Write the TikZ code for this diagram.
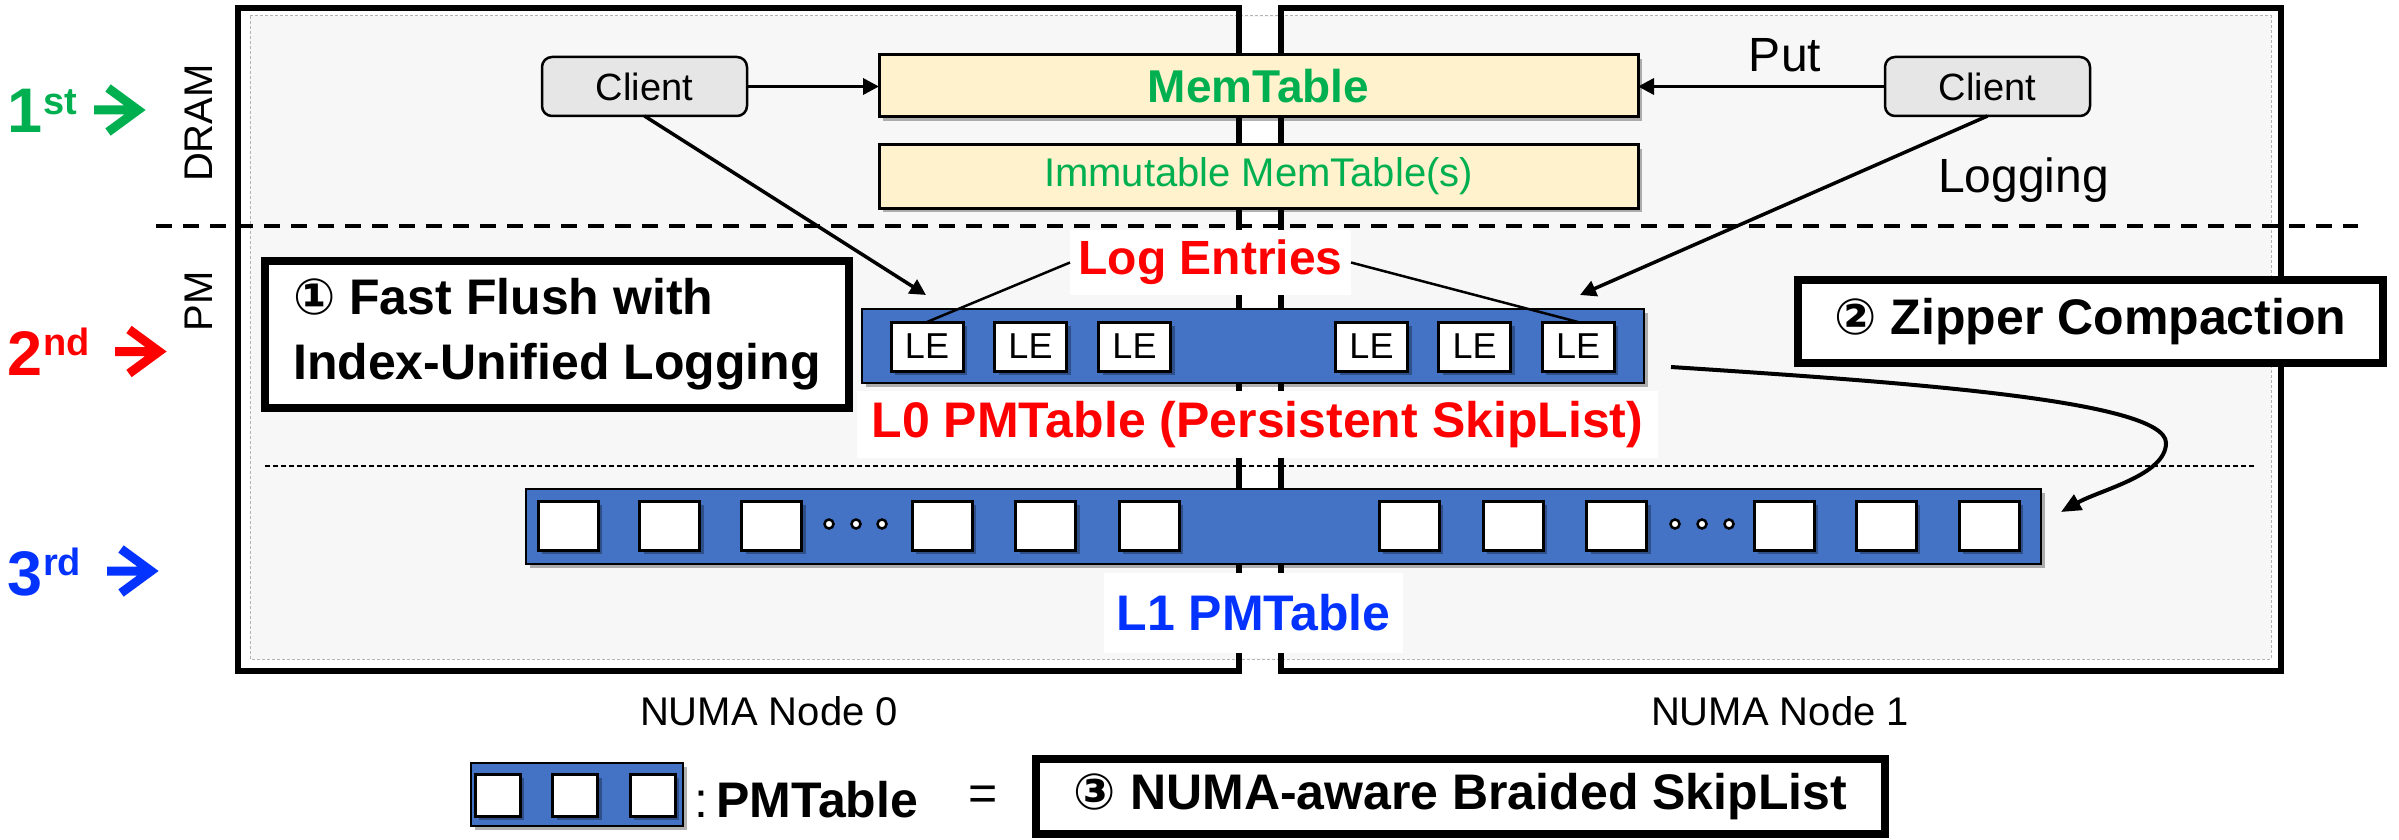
\documentclass[tikz,border=0pt]{standalone}
\usepackage{fontspec}
\setmainfont{Liberation Sans}
\newfontfamily\circfont{DejaVu Sans}
\usetikzlibrary{arrows.meta,shadows}

\definecolor{dramgreen}{HTML}{00B050}
\definecolor{pmred}{HTML}{FF0000}
\definecolor{lvlblue}{HTML}{0433FF}
\definecolor{barblue}{HTML}{4472C4}
\definecolor{memfill}{HTML}{FFF2CC}
\definecolor{clientfill}{HTML}{E7E6E6}
\definecolor{areagray}{HTML}{F7F7F7}
\definecolor{areaedge}{HTML}{B4B4B4}

\newcommand{\pxfont}[1]{\fontsize{#1}{#1}\selectfont}

\begin{document}
\begin{tikzpicture}[x=1pt,y=-1pt,
  every node/.style={inner sep=0pt, outer sep=0pt},
  softshadow/.style={drop shadow={shadow xshift=4pt, shadow yshift=-4pt, fill=black, opacity=0.3}},
  client/.style={draw=black, line width=2.5pt, fill=clientfill, rounded corners=10pt,
    minimum width=205pt, minimum height=59pt, font=\pxfont{38}},
  memtab/.style={draw=black, line width=3pt, fill=memfill, minimum width=759pt,
    minimum height=62pt, softshadow},
  bar/.style={draw=black, line width=2.5pt, fill=barblue, softshadow},
  lebox/.style={draw=black, line width=3pt, fill=white, minimum width=72pt,
    minimum height=49pt, font=\pxfont{36}, softshadow},
  cell/.style={draw=black, line width=3pt, fill=white, minimum width=60pt,
    minimum height=49pt, softshadow},
  dotcell/.style={circle, draw=black, line width=2.5pt, fill=white, minimum size=9pt},
  note/.style={draw=black, line width=8pt, fill=white, font=\pxfont{50}\bfseries},
  tag/.style={fill=white},
  lvl/.style={font=\pxfont{63}\bfseries, anchor=base west},
  conn/.style={line width=3.5pt, -{Triangle[length=16pt,width=16pt]}},
  leader/.style={line width=2.5pt},
  lvlarr/.pic={\draw[line width=9pt, miter limit=10] (-26,0) -- (17,0) (-12,-22) -- (18,0) -- (-12,22);}
]
\useasboundingbox (0,0) rectangle (2399,840);

% two NUMA nodes over a shared light area
\draw[fill=areagray, draw=areaedge, line width=1pt, dash pattern=on 3pt off 2pt] (250,16) rectangle (2271,659);
\fill[white] (1241,17.5) rectangle (1278,657.5);
\draw[line width=6pt] (238,8) rectangle (1238.5,671);
\draw[line width=6pt] (1280.5,8) rectangle (2280.5,671);

% DRAM / PM boundary and L0 / L1 boundary
\draw[line width=4pt, dash pattern=on 16pt off 11pt] (156,226) -- (2358,226);
\draw[line width=2pt, dash pattern=on 5pt off 3pt] (265,466) -- (2255,466);

% level markers
\node[lvl, text=dramgreen] (lv1) at (8,133) {1\raisebox{18pt}{\pxfont{38}st}};
\node[lvl, text=pmred] (lv2) at (8,375) {2\raisebox{20pt}{\pxfont{38}nd}};
\node[lvl, text=lvlblue] (lv3) at (8,595) {3\raisebox{20pt}{\pxfont{38}rd}};
\pic[color=dramgreen] at (120,110) {lvlarr};
\pic[color=pmred] at (141,351.5) {lvlarr};
\pic[color=lvlblue] at (133,571) {lvlarr};

\node[rotate=90, font=\pxfont{40}] (dram) at (199,123) {DRAM};
\node[rotate=90, font=\pxfont{40}] (pm) at (199,301) {PM};

% DRAM tables and clients
\node[memtab, text=dramgreen, font=\pxfont{46}\bfseries] (mem) at (1258.5,86) {MemTable};
\node[memtab, text=dramgreen, font=\pxfont{40}, minimum height=63pt] (imm) at (1258.5,176.5) {Immutable MemTable(s)};
\node[client] (cl) at (644.5,86.5) {Client};
\node[client] (cr) at (1987.5,86.5) {Client};
\node[font=\pxfont{48}, anchor=base] (put) at (1785,72) {Put};
\node[font=\pxfont{48}, anchor=base west] (logg) at (1938,192) {Logging};

% L0 PMTable with log entries
\node[bar, minimum width=782pt, minimum height=74pt] (l0) at (1253,346) {};
\foreach \x [count=\i] in {927,1030.5,1134.5,1371.5,1474.5,1578}
  \node[lebox] (le\i) at (\x,346.5) {LE};
\node[tag, minimum width=281pt, minimum height=65pt, text=pmred, font=\pxfont{48}\bfseries] (logent) at (1210.5,262.5) {Log Entries};
\node[tag, minimum width=801pt, minimum height=67pt, text=pmred, font=\pxfont{50}\bfseries] (l0lbl) at (1257.5,424.5) {L0 PMTable (Persistent SkipList)};

% L1 PMTable
\node[bar, minimum width=1515pt, minimum height=75pt] (l1) at (1283.5,526.5) {};
\foreach \x [count=\i] in {568,669.5,771.5,942,1045.5,1149,1409,1513,1616.5,1784,1886,1989}
  \node[cell] (c\i) at (\x,525.5) {};
\foreach \x [count=\i] in {829,856,882,1675,1702,1729}
  \node[dotcell] (d\i) at (\x,524) {};
\node[tag, minimum width=299pt, minimum height=80pt, text=lvlblue, font=\pxfont{50}\bfseries] (l1lbl) at (1253.5,613) {L1 PMTable};

% connectors
\coordinate (tipL) at (926,295);
\coordinate (tipR) at (1580,295);
\draw[conn] (cl.east) -- (cl.east -| mem.west);
\draw[conn] (cr.west) -- (cr.west -| mem.east);
\draw[conn] (cl.south) -- (tipL);
\draw[conn] (cr.south) -- (tipR);
\draw[leader] (logent.west) -- (le1.north);
\draw[leader] (logent.east) -- (le6.north);
\coordinate (zipturn) at (2166,443);
\draw[line width=4pt, -{Triangle[length=20pt,width=17pt]}]
  ([shift={(27,21)}]l0.east) .. controls +(229,15) and +(0,-43) .. (zipturn)
  .. controls +(0,32) and +(39,-22) .. ([shift={(20,23)}]l1.north east);

% callouts
\node[note, minimum width=584pt, minimum height=147pt, align=left, font=\fontsize{50}{65}\selectfont\bfseries] (ff) at (557,334.5)
  {{\circfont ①} Fast Flush with\\Index-Unified Logging};
\node[note, minimum width=585pt, minimum height=83pt] (zc) at (2090.5,321.5) {{\circfont ②} Zipper Compaction};

% NUMA node names
\node[font=\pxfont{40}, anchor=base] (n0) at (769,725) {NUMA Node 0};
\node[font=\pxfont{40}, anchor=base] (n1) at (1780,725) {NUMA Node 1};

% legend
\node[bar, minimum width=212pt, minimum height=63pt] (lg) at (577,794.5) {};
\foreach \x [count=\i] in {497.5,575,652.5}
  \node[cell, minimum width=45pt, minimum height=42pt] (lgc\i) at (\x,795) {};
\node[font=\pxfont{50}, anchor=base west] (lgt) at (694,817) {:\,\textbf{PMTable}};
\node[font=\pxfont{50}] (eq) at (983,798) {=};
\node[note, minimum width=849pt, minimum height=75pt] (braid) at (1460.5,796.5) {{\circfont ③} NUMA-aware Braided SkipList};
\end{tikzpicture}
\end{document}
